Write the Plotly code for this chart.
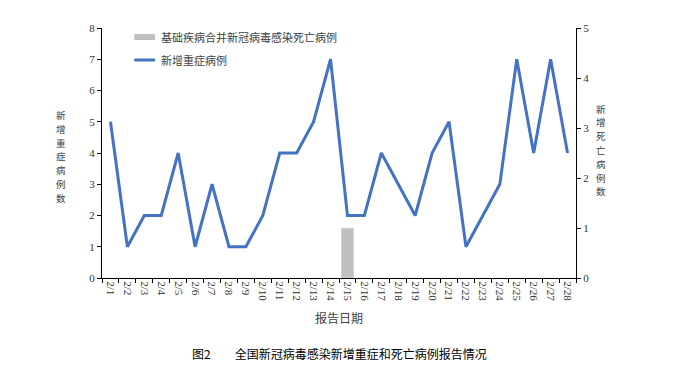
import plotly.graph_objects as go

dates = [f"2/{d}" for d in range(1, 29)]
severe = [5, 1, 2, 2, 4, 1, 3, 1, 1, 2, 4, 4, 5, 7, 2, 2, 4, 3, 2, 4, 5, 1, 2, 3, 7, 4, 7, 4]
deaths = [0, 0, 0, 0, 0, 0, 0, 0, 0, 0, 0, 0, 0, 0, 1, 0, 0, 0, 0, 0, 0, 0, 0, 0, 0, 0, 0, 0]

name_bar = "基础疾病合并新冠病毒感染死亡病例"
name_line = "新增重症病例"
left_title = "新增重症病例数"
right_title = "新增死亡病例数"
x_title = "报告日期"
caption = "图2　　全国新冠病毒感染新增重症和死亡病例报告情况"

SERIF = "Liberation Serif, Noto Sans CJK SC, serif"
CJK = "Noto Sans CJK SC, sans-serif"
GRAY = "#BFBFBF"
BLUE = "#4472C4"

fig = go.Figure()
fig.add_trace(go.Bar(x=dates, y=deaths, yaxis="y2", marker_color=GRAY, width=0.75,
                     name=name_bar, showlegend=False))
fig.add_trace(go.Scatter(x=dates, y=severe, mode="lines", line=dict(color=BLUE, width=3),
                         name=name_line, showlegend=False))

axis_common = dict(showline=True, linecolor="#000", linewidth=1, ticks="outside",
                   ticklen=4, tickcolor="#000", showgrid=False, zeroline=False,
                   tickfont=dict(family=SERIF, size=11, color="#333"))

fig.update_layout(
    width=680, height=375,
    margin=dict(l=94, r=112, t=20, b=105),
    paper_bgcolor="white", plot_bgcolor="white",
    showlegend=False,
    xaxis=dict(type="category", tickangle=90, tickson="boundaries", range=[-0.5, 27.5],
               **axis_common),
    yaxis=dict(range=[0, 8], dtick=1, **axis_common),
    yaxis2=dict(range=[0, 5], dtick=1, overlaying="y", side="right", **axis_common),
)

# legend drawn manually (key shapes + labels)
for y, color, w, label in [(0.964, GRAY, 6, name_bar), (0.872, BLUE, 3, name_line)]:
    fig.add_shape(type="line", xref="paper", yref="paper", x0=0.068, x1=0.112, y0=y, y1=y,
                  line=dict(color=color, width=w))
    fig.add_annotation(text=label, xref="paper", yref="paper", x=0.121, y=y,
                       showarrow=False, xanchor="left", yanchor="middle",
                       font=dict(family=CJK, size=11, color="#404040"))

# vertical (stacked) axis titles, one character per annotation
PLOT_H = 250.0
STEP = 13.8
def stacked(text, xpaper, first_center_px_from_top):
    for i, ch in enumerate(text):
        ypx = first_center_px_from_top + i * STEP  # pixels below plot top
        fig.add_annotation(text=ch, xref="paper", yref="paper", x=xpaper,
                           y=1 - ypx / PLOT_H, showarrow=False,
                           borderpad=0, xanchor="center", yanchor="middle",
                           font=dict(family=CJK, size=9.5, color="#404040"))

stacked(left_title, -0.086, 87)
stacked(right_title, 1.053, 80.5)

fig.add_annotation(text=x_title, xref="paper", yref="paper", x=0.5, y=-0.118,
                   showarrow=False, font=dict(family=CJK, size=12, color="#404040"),
                   xanchor="center", yanchor="top")
fig.add_annotation(text=caption, xref="paper", yref="paper", x=0.5, y=-0.26,
                   showarrow=False, font=dict(family=CJK, size=12, color="#000"),
                   xanchor="center", yanchor="top")

fig.write_html("out.html")
